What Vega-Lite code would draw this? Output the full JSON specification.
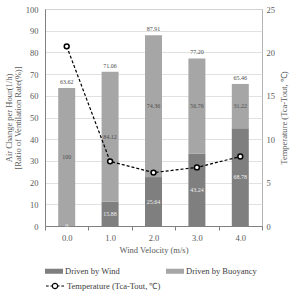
{
  "$schema": "https://vega.github.io/schema/vega-lite/v6.json",
  "autosize": "none",
  "width": 217,
  "height": 217,
  "padding": {"left": 45, "top": 9, "right": 34, "bottom": 67},
  "background": "#ffffff",
  "config": {
    "font": "Liberation Serif",
    "view": {"stroke": "#b3b3b3", "strokeWidth": 1},
    "axis": {
      "labelFont": "Liberation Serif",
      "titleFont": "Liberation Serif",
      "labelFontSize": 8.5,
      "titleFontSize": 8.5,
      "titleFontWeight": "normal",
      "labelColor": "#595959",
      "titleColor": "#595959",
      "domainColor": "#808080",
      "gridColor": "#d9d9d9",
      "gridWidth": 0.8
    },
    "legend": {
      "labelFont": "Liberation Serif",
      "labelFontSize": 8.5,
      "labelColor": "#404040"
    }
  },
  "datasets": {
    "bars": [
      {"velocity": "0.0", "source": "Driven by Wind", "ach": 0, "pct": "0"},
      {"velocity": "0.0", "source": "Driven by Buoyancy", "ach": 63.62, "pct": "100"},
      {"velocity": "1.0", "source": "Driven by Wind", "ach": 11.28, "pct": "15.88"},
      {"velocity": "1.0", "source": "Driven by Buoyancy", "ach": 59.78, "pct": "84.12"},
      {"velocity": "2.0", "source": "Driven by Wind", "ach": 22.54, "pct": "25.64"},
      {"velocity": "2.0", "source": "Driven by Buoyancy", "ach": 65.37, "pct": "74.36"},
      {"velocity": "3.0", "source": "Driven by Wind", "ach": 33.38, "pct": "43.24"},
      {"velocity": "3.0", "source": "Driven by Buoyancy", "ach": 43.82, "pct": "56.76"},
      {"velocity": "4.0", "source": "Driven by Wind", "ach": 45.02, "pct": "68.78"},
      {"velocity": "4.0", "source": "Driven by Buoyancy", "ach": 20.44, "pct": "31.22"}
    ],
    "summary": [
      {"velocity": "0.0", "total": 63.62, "temp": 20.7},
      {"velocity": "1.0", "total": 71.06, "temp": 7.45},
      {"velocity": "2.0", "total": 87.91, "temp": 6.15},
      {"velocity": "3.0", "total": 77.2, "temp": 6.75},
      {"velocity": "4.0", "total": 65.46, "temp": 8.0}
    ]
  },
  "layer": [
    {
      "data": {"name": "bars"},
      "mark": {"type": "bar", "width": 17},
      "encoding": {
        "x": {
          "field": "velocity",
          "type": "ordinal",
          "scale": {"paddingInner": 0, "paddingOuter": 0},
          "axis": {
            "title": "Wind Velocity (m/s)",
            "labelAngle": 0,
            "tickBand": "extent",
            "ticks": true,
            "tickSize": 4,
            "tickColor": "#808080",
            "labelPadding": 3,
            "titlePadding": 4
          }
        },
        "y": {
          "field": "ach",
          "type": "quantitative",
          "stack": "zero",
          "scale": {"domain": [0, 100], "nice": false},
          "axis": {
            "orient": "left",
            "title": ["Air Change per Hour(1/h)", "[Ratio of Ventilation Rate(%)]"],
            "values": [0, 10, 20, 30, 40, 50, 60, 70, 80, 90, 100],
            "labelOverlap": false,
            "ticks": false,
            "grid": true,
            "labelPadding": 7,
            "titlePadding": 3,
            "titleLineHeight": 9
          }
        },
        "color": {
          "field": "source",
          "type": "nominal",
          "scale": {
            "domain": ["Driven by Wind", "Driven by Buoyancy"],
            "range": ["#7f7f7f", "#a6a6a6"]
          },
          "legend": {
            "orient": "none",
            "legendX": 0,
            "legendY": 253,
            "direction": "horizontal",
            "title": null,
            "symbolType": "M-1,-0.28H1V0.28H-1Z",
            "symbolSize": 324,
            "symbolStrokeWidth": 0,
            "labelOffset": 2,
            "columnPadding": 46
          }
        },
        "order": {"field": "source", "sort": "descending"}
      }
    },
    {
      "data": {"name": "bars"},
      "mark": {"type": "text", "font": "Liberation Serif", "fontSize": 6},
      "encoding": {
        "x": {"field": "velocity", "type": "ordinal"},
        "y": {
          "field": "ach",
          "type": "quantitative",
          "stack": "zero",
          "bandPosition": 0.5,
          "scale": {"domain": [0, 100], "nice": false},
          "axis": null
        },
        "detail": {"field": "source"},
        "order": {"field": "source", "sort": "descending"},
        "text": {"field": "pct"},
        "color": {
          "condition": {"test": "datum.source === 'Driven by Wind'", "value": "#eeeeee"},
          "value": "#4d4d4d"
        }
      }
    },
    {
      "data": {"name": "summary"},
      "mark": {
        "type": "text",
        "font": "Liberation Serif",
        "fontSize": 6,
        "baseline": "bottom",
        "dy": -3,
        "color": "#4d4d4d"
      },
      "encoding": {
        "x": {"field": "velocity", "type": "ordinal"},
        "y": {
          "field": "total",
          "type": "quantitative",
          "scale": {"domain": [0, 100], "nice": false},
          "axis": null
        },
        "text": {"field": "total", "type": "quantitative", "format": ".2f"}
      }
    },
    {
      "data": {"name": "summary"},
      "mark": {"type": "line", "strokeWidth": 1.2, "strokeDash": [3, 2]},
      "encoding": {
        "x": {"field": "velocity", "type": "ordinal"},
        "y": {
          "field": "temp",
          "type": "quantitative",
          "scale": {"domain": [0, 25], "nice": false},
          "axis": {
            "orient": "right",
            "title": "Temperature (Tca-Tout, ℃)",
            "values": [0, 5, 10, 15, 20, 25],
            "labelOverlap": false,
            "ticks": false,
            "grid": false,
            "domain": false,
            "labelPadding": 4,
            "titleAngle": 270,
            "titleBaseline": "top",
            "titlePadding": 5
          }
        },
        "color": {
          "datum": "Temperature (Tca-Tout, ℃)",
          "type": "nominal",
          "scale": {"range": ["#000000"]},
          "legend": {
            "orient": "none",
            "legendX": 0,
            "legendY": 267,
            "title": null,
            "symbolType": "M-1,0H-0.7M-0.5,0H-0.3M0.3,0H0.5M0.7,0H1M-0.3,0A0.3,0.3 0 1,1 0.3,0A0.3,0.3 0 1,1 -0.3,0Z",
            "symbolSize": 324,
            "symbolStrokeWidth": 1.2,
            "symbolFillColor": "#ffffff",
            "labelOffset": 2
          }
        }
      }
    },
    {
      "data": {"name": "summary"},
      "mark": {
        "type": "point",
        "shape": "circle",
        "size": 24,
        "filled": true,
        "fill": "#ffffff",
        "stroke": "#000000",
        "strokeWidth": 1.5,
        "opacity": 1
      },
      "encoding": {
        "x": {"field": "velocity", "type": "ordinal"},
        "y": {
          "field": "temp",
          "type": "quantitative",
          "scale": {"domain": [0, 25], "nice": false},
          "axis": null
        }
      }
    }
  ],
  "resolve": {"scale": {"y": "independent", "color": "independent"}}
}
